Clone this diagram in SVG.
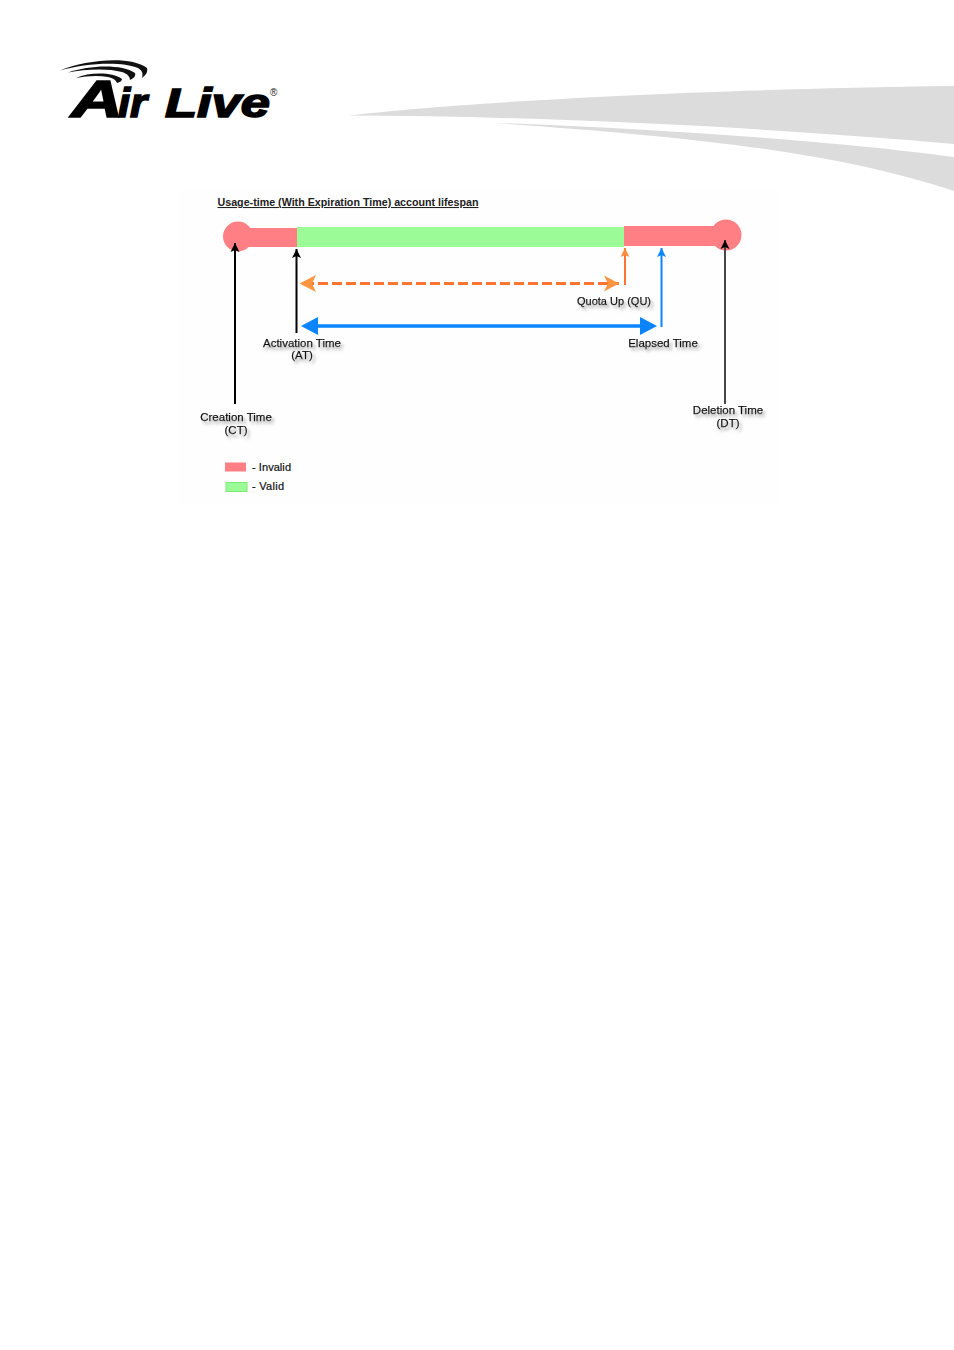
<svg xmlns="http://www.w3.org/2000/svg" width="954" height="1350" viewBox="0 0 954 1350">
<style>
.t{font-family:"Liberation Sans",Arial,sans-serif;font-size:11.5px;fill:#111;stroke:#111;stroke-width:.25px;text-anchor:middle;filter:url(#sh)}
.bar{stroke:none}
.red{fill:#ff7f84}
.green{fill:#9bfb97}
.lg{font-family:"Liberation Sans",Arial,sans-serif;font-size:11px;fill:#111;stroke:#111;stroke-width:.2px}
.lo{font-family:"Liberation Sans",Arial,sans-serif;font-weight:700;font-style:italic;fill:#000;stroke:#000}
</style>
<defs>
<filter id="sh" x="-20%" y="-50%" width="140%" height="220%"><feDropShadow dx="2.5" dy="3" stdDeviation="1.4" flood-color="#888" flood-opacity=".75"/></filter>
<marker id="mb" markerUnits="userSpaceOnUse" markerWidth="10" markerHeight="12" refX="9" refY="6" orient="auto"><path d="M0,1.500 L9,6 L0,10.500 L2,6Z" fill="#000"/></marker>
<marker id="mbl" markerUnits="userSpaceOnUse" markerWidth="10" markerHeight="12" refX="9" refY="6" orient="auto"><path d="M0,1.500 L9,6 L0,10.500 L2,6Z" fill="#0a84ff"/></marker>
<marker id="mo" markerUnits="userSpaceOnUse" markerWidth="10" markerHeight="12" refX="9" refY="6" orient="auto"><path d="M0,1.500 L9,6 L0,10.500 L2,6Z" fill="#ff8c3a"/></marker>
<marker id="mol" markerUnits="userSpaceOnUse" markerWidth="16" markerHeight="18" refX="15" refY="9" orient="auto"><path d="M0,1 L15,9 L0,17 L4,9Z" fill="#ff9540"/></marker>
</defs>
<rect width="954" height="1350" fill="#fff"/>
<g id="header-swoosh" fill="#dcdcdc">
<path d="M349,115.500 C430,106 640,90 954,86 L954,144 C800,130 560,116 349,115.500Z"/>
<path d="M488,122.500 C640,128 830,140 954,157 L954,191 C830,150 680,136 488,122.500Z"/>
</g>
<g id="logo">
<g fill="#111">
<path d="M60,70.500 C85,60 130,55 147,68 C148,72 146,75 142,78 C143,74 143,71 138,68 C122,61 85,63 60,70.500Z"/>
<path d="M68,72.500 C90,65 122,64 135,73 C136,76 134,78 130,80 C130,77 128,74 122,72 C108,68 85,69 68,72.500Z"/>
<path d="M76,78 C90,72 112,72 122,79 C122,81 120,82 117,83 C116,80 113,78 108,77 C98,75 86,76 76,78Z"/>
</g>
<text class="lo" x="71" y="117" font-size="52" stroke-width="1.600" textLength="52" lengthAdjust="spacingAndGlyphs">A</text>
<text class="lo" x="118" y="117" font-size="40" stroke-width="1.600" textLength="29" lengthAdjust="spacingAndGlyphs">ir</text>
<text class="lo" x="165" y="117" font-size="40" stroke-width="1.600" textLength="105" lengthAdjust="spacingAndGlyphs">Live</text>
<text x="270" y="96" font-family="'Liberation Sans',Arial,sans-serif" font-size="10" fill="#222">®</text>
</g>
<g id="diagram">
<rect x="178" y="190" width="602" height="315" fill="#fefefe"/>
<text x="348" y="206" font-family="'Liberation Sans',Arial,sans-serif" font-size="10.600" font-weight="700" fill="#222" text-anchor="middle" text-decoration="underline" textLength="261" lengthAdjust="spacingAndGlyphs">Usage-time (With Expiration Time) account lifespan</text>
<g id="bar-invalid-start" class="bar">
<circle class="red" cx="238" cy="236.500" r="15"/>
<rect class="red" x="240" y="228" width="58" height="19"/>
</g>
<g id="bar-valid" class="bar"><rect class="green" x="297" y="227" width="327" height="20"/></g>
<g id="bar-invalid-end" class="bar">
<rect class="red" x="624" y="226" width="96" height="20"/>
<circle class="red" cx="726" cy="235" r="15.500"/>
</g>
<g id="label-ct"><text class="t" x="236" y="421">Creation Time</text><text class="t" x="236" y="433.500">(CT)</text></g>
<g id="label-at"><text class="t" x="302" y="347">Activation Time</text><text class="t" x="302" y="359">(AT)</text></g>
<g id="label-qu"><text class="t" x="614" y="305" textLength="74" lengthAdjust="spacingAndGlyphs">Quota Up (QU)</text></g>
<g id="label-et"><text class="t" x="663" y="347">Elapsed Time</text></g>
<g id="label-dt"><text class="t" x="728" y="414">Deletion Time</text><text class="t" x="728" y="426.500">(DT)</text></g>
<g id="legend-invalid"><rect class="red" x="225" y="462.500" width="21" height="9"/><text class="lg" x="252" y="471" textLength="39" lengthAdjust="spacing">- Invalid</text></g>
<g id="legend-valid"><rect x="226" y="482.500" width="21" height="9" fill="#9bfb97" stroke="#7be878"/><text class="lg" x="252" y="490" textLength="32" lengthAdjust="spacing">- Valid</text></g>
</g>
<g id="connectors" fill="none">
<line x1="235" y1="404" x2="235" y2="243" stroke="#000" stroke-width="2" marker-end="url(#mb)"/>
<line x1="296.500" y1="333" x2="296.500" y2="249" stroke="#000" stroke-width="2" marker-end="url(#mb)"/>
<line x1="725" y1="404" x2="725" y2="240" stroke="#333" stroke-width="1.800" marker-end="url(#mb)"/>
<line x1="625" y1="285" x2="625" y2="248" stroke="#ff7433" stroke-width="2" marker-end="url(#mo)"/>
<line x1="661.500" y1="327" x2="661.500" y2="248" stroke="#0a84ff" stroke-width="2" marker-end="url(#mbl)"/>
<line x1="304" y1="283.500" x2="619" y2="283.500" stroke="#ff7433" stroke-width="2.800" stroke-dasharray="10 4" marker-end="url(#mol)"/>
<path d="M299.500,283.500 L316,275 L312,283.500 L316,292Z" fill="#ff9540"/>
<line x1="318" y1="326" x2="640" y2="326" stroke="#0a84ff" stroke-width="3.500"/>
<path d="M301,326 L318,317 L318,335Z" fill="#0a84ff"/>
<path d="M657,326 L640,317 L640,335Z" fill="#0a84ff"/>
</g>
</svg>
